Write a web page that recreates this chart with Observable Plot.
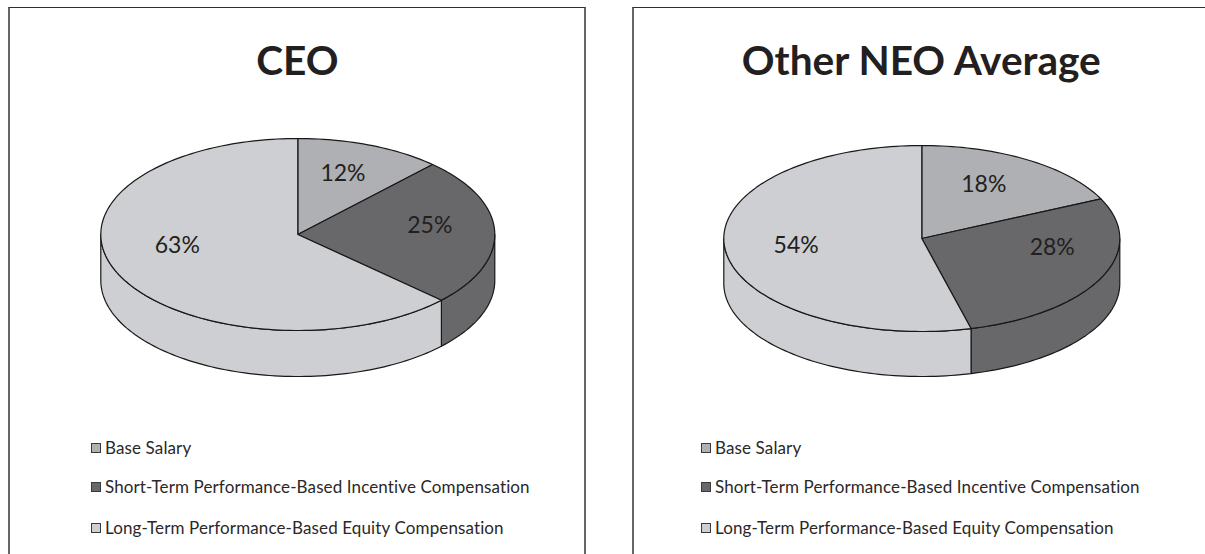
<!DOCTYPE html>
<html>
<head>
<meta charset="utf-8">
<script src="https://cdn.jsdelivr.net/npm/d3@7"></script>
<script src="https://cdn.jsdelivr.net/npm/@observablehq/plot@0.6"></script>
<style>
  html, body { margin: 0; padding: 0; background: #fff; width: 1205px; height: 554px; overflow: hidden; }
  body { position: relative; font-family: Lato, "Open Sans", sans-serif; color: #231f20; }
  .panel { position: absolute; top: 7px; height: 547px; box-sizing: border-box; border-top: 1.5px solid #2e2e2e; }
  .chart { position: absolute; top: 0; }
  .title { position: absolute; top: 36px; font-weight: 700; font-size: 40.6px; line-height: 48px; text-align: center; white-space: nowrap; transform: translateX(-50%); color: #231f20; }
  .legend-row { position: absolute; font-size: 17px; letter-spacing: 0.12px; line-height: 20px; white-space: nowrap; color: #2b2829; }
  .swatch { position: absolute; width: 8px; height: 8px; border: 1px solid #3a3a3a; }
</style>
</head>
<body>
<script>
const categories = ["Base Salary", "Short-Term Performance-Based Incentive Compensation", "Long-Term Performance-Based Equity Compensation"];
const colors = ["#afb0b3", "#68686b", "#cdcfd2"];
const ceoTitle = "CEO";
const ceoValues = [12, 25, 63];
const neoTitle = "Other NEO Average";
const neoValues = [18, 28, 54];

const panels = [
  {title: ceoTitle, values: ceoValues, left: 0, width: 586, frameLeft: 8, frameWidth: 578, cx: 297.3, cy: 234, rx: 197, ry: 96, depth: 46, swatchX: 91,
   nudge: [[-2, -3], [4, -7], [-3, -14]]},
  {title: neoTitle, values: neoValues, left: 632, width: 573, frameLeft: 632, frameWidth: 590, cx: 921.3, cy: 238, rx: 198, ry: 93, depth: 45, swatchX: 701,
   nudge: [[-7, -3], [14, -17], [2, 0]]}
];
const legendRows = [448, 487, 528];
const topOfPie = 0; // clock angle origin: slices start at 12 o'clock

function arc(a0, a1, yOffset) {
  const n = Math.max(2, Math.ceil(Math.abs(a1 - a0) / 1.5));
  return d3.range(n + 1).map(i => {
    const a = (a0 + (a1 - a0) * i / n) * Math.PI / 180;
    return {x: Math.sin(a), y: Math.cos(a) - yOffset};
  });
}

panels.forEach(p => {
  // frame
  const frame = document.createElement("div");
  frame.className = "panel";
  frame.style.left = p.frameLeft + "px";
  frame.style.width = p.frameWidth + "px";
  frame.style.borderLeft = "2px solid #666";
  frame.style.borderRight = "2px solid #666";
  document.body.appendChild(frame);

  // slices in unit-circle coordinates; thickness expressed in the same units
  const thickness = p.depth / p.ry;
  const slices = [];
  let acc = topOfPie;
  p.values.forEach((v, i) => {
    slices.push({i, value: v, a0: acc * 3.6, a1: (acc + v) * 3.6});
    acc += v;
  });

  const marks = [];
  // front wall: only clock angles 90..270 are visible
  slices.forEach(s => {
    const a0 = Math.max(s.a0, 90), a1 = Math.min(s.a1, 270);
    if (a1 <= a0) return;
    const top = arc(a0, a1, 0), bottom = arc(a1, a0, thickness);
    const ring = [...top, ...bottom, top[0]];
    marks.push(Plot.line(ring, {x: "x", y: "y", fill: colors[s.i], stroke: "#1a1718", strokeWidth: 1.2, curve: "linear", strokeLinejoin: "round"}));
  });
  // top face
  slices.forEach(s => {
    const ring = [{x: 0, y: 0}, ...arc(s.a0, s.a1, 0), {x: 0, y: 0}];
    marks.push(Plot.line(ring, {x: "x", y: "y", fill: colors[s.i], stroke: "#1a1718", strokeWidth: 1.2, curve: "linear", strokeLinejoin: "round"}));
  });
  // value labels at mid-slice
  slices.forEach(s => {
    const mid = (s.a0 + s.a1) / 2 * Math.PI / 180;
    const r = 0.65;
    marks.push(Plot.text([s], {
      x: () => r * Math.sin(mid),
      y: () => r * Math.cos(mid),
      text: d => d.value + "%",
      dx: p.nudge[s.i][0],
      dy: p.nudge[s.i][1],
      fontSize: 23,
      fill: "#231f20",
      fontFamily: "Lato, 'Open Sans', sans-serif"
    }));
  });

  const cxLocal = p.cx - p.left;
  const H = 554;
  const chart = Plot.plot({
    width: p.width,
    height: H,
    margin: 0,
    x: {domain: [-cxLocal / p.rx, (p.width - cxLocal) / p.rx], range: [0, p.width], axis: null},
    y: {domain: [p.cy / p.ry, (p.cy - H) / p.ry], range: [0, H], axis: null},
    marks,
    style: {background: "transparent", overflow: "visible"}
  });
  chart.classList.add("chart");
  chart.style.left = p.left + "px";
  document.body.appendChild(chart);

  // title
  const t = document.createElement("div");
  t.className = "title";
  t.textContent = p.title;
  t.style.left = p.cx + "px";
  document.body.appendChild(t);

  // legend
  categories.forEach((c, i) => {
    const sw = document.createElement("div");
    sw.className = "swatch";
    sw.style.left = p.swatchX + "px";
    sw.style.top = (legendRows[i] - 5) + "px";
    sw.style.background = colors[i];
    document.body.appendChild(sw);
    const row = document.createElement("div");
    row.className = "legend-row";
    row.textContent = c;
    row.style.left = (p.swatchX + 14) + "px";
    row.style.top = (legendRows[i] - 10) + "px";
    document.body.appendChild(row);
  });
});
</script>
</body>
</html>
